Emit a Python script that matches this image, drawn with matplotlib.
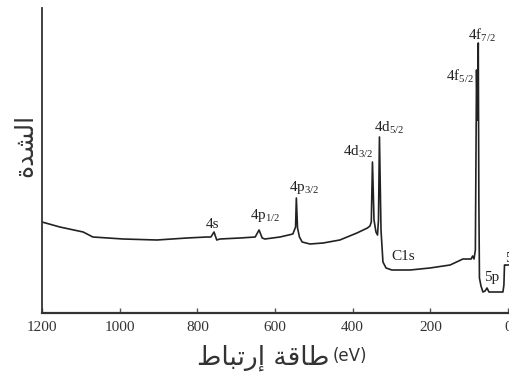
"""
XPS survey spectrum (gold) — recreated with matplotlib, saved to out.png.
"""

import matplotlib
matplotlib.use("Agg")
import matplotlib.pyplot as plt

# binding energy (eV) and intensity (arbitrary units)
energy = [1200, 1154, 1094, 1069, 991, 904, 827, 775, 765, 757, 750, 742,
          690, 651, 641, 633, 626, 587, 554, 547, 545, 542, 537, 530,
          510, 476, 433, 389, 362, 355.5, 352, 349, 345, 340, 336, 333.5,
          331, 327, 322, 314, 299, 252, 201, 149, 116, 95, 91, 87.5, 84,
          81, 79, 76.5, 75, 73.5, 69.5, 64.5, 59, 54, 49, 38.5, 13,
          10.5, 9, 6.5, -5]
intensity = [91, 86, 81, 76, 74, 73, 75, 76, 76, 81, 73, 74,
             75, 76, 83, 75, 74, 76, 79, 86, 115, 85, 76, 71,
             69, 70, 73, 80, 85, 87, 91, 151, 93, 81, 78, 93,
             176, 83, 51, 45, 43, 43, 45, 48, 54, 54, 57, 54, 63,
             243, 193, 270, 113, 35, 27, 21, 22, 25, 21, 21, 21,
             28, 48, 48, 48]

# peak labels and where they sit (energy, intensity)
peak_names = ["4s", r"4p$_{1/2}$", r"4p$_{3/2}$", r"4d$_{3/2}$", r"4d$_{5/2}$",
              "C1s", r"4f$_{5/2}$", r"4f$_{7/2}$", "5p", "5d"]
label_pos = [(760, 88), (624, 98), (526, 125), (386, 161), (307, 185),
             (270, 57), (125, 237), (67, 278), (42, 35), (8, 54)]

xticks = [1200, 1000, 800, 600, 400, 200, 0]

# Arabic text in presentation forms, visual (left-to-right) order,
# since matplotlib does no shaping or bidi reordering
ylabel_ar = "\uFE93\uFEAA\uFEB8\uFEDF\uFE8D"                     # الشدة
xlabel_ar = ("\uFEC1\uFE8E\uFE92\uFE97\uFEAD\uFE87 "             # إرتباط
             "\uFE94\uFED7\uFE8E\uFEC3")                          # طاقة

plt.rcParams["mathtext.fontset"] = "custom"
plt.rcParams["mathtext.rm"] = "Liberation Serif"
plt.rcParams["mathtext.it"] = "Liberation Serif"

fig = plt.figure(figsize=(5.1, 3.8), dpi=100)
ax = fig.add_axes([42 / 510, 67 / 380, 468 / 510, 305 / 380])

ax.plot(energy, intensity, color="#222222", lw=1.2)
ax.set_xlim(1200, -5.2)
ax.set_ylim(0, 305)

for sp in ("top", "right"):
    ax.spines[sp].set_visible(False)
ax.spines["left"].set_linewidth(1.3)
ax.spines["bottom"].set_linewidth(1.6)
for sp in ("left", "bottom"):
    ax.spines[sp].set_color("#333333")

ax.set_yticks([])
ax.set_xticks(xticks)
ax.set_xticklabels([str(t) for t in xticks], family="Liberation Serif",
                   fontsize=11, color="#333333")
ax.tick_params(axis="x", direction="in", length=3.5, width=1.0,
               color="#555555", pad=6)

for name, (e, i) in zip(peak_names, label_pos):
    ha = "left" if name == "5d" else "center"
    ax.text(e, i, name, family="Liberation Serif", fontsize=11,
            color="#222222", ha=ha, va="center", clip_on=False)

# x label: Arabic part plus the unit, placed side by side
fig.text(329 / 510, 1 - 358 / 380, xlabel_ar, family=["DejaVu Sans"],
         fontsize=19, color="#333333", ha="right", va="center")
fig.text(333 / 510, 1 - 356 / 380, "(eV)", family="DejaVu Sans",
         fontsize=12, color="#333333", ha="left", va="center")
fig.text(25 / 510, 1 - 145 / 380, ylabel_ar, family=["DejaVu Sans"],
         fontsize=18, color="#333333", rotation=90,
         ha="center", va="center")

fig.savefig("out.png", dpi=100)
